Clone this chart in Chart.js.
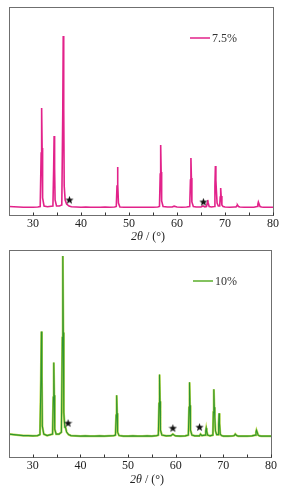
<!DOCTYPE html>
<html><head><meta charset="utf-8">
<script src="https://cdn.jsdelivr.net/npm/chart.js@4.4.0/dist/chart.umd.min.js"></script>
<style>
html,body{margin:0;padding:0;background:#fff;}
body{width:285px;height:492px;position:relative;overflow:hidden;}
.panel{position:absolute;left:0;width:285px;}
#p1{top:0;height:245px;}
#p2{top:245px;height:247px;}
</style></head><body>
<div class="panel" id="p1"><canvas id="c1"></canvas></div>
<div class="panel" id="p2"><canvas id="c2"></canvas></div>
<script>
// ---- data ----
const xTickValues = [30, 40, 50, 60, 70, 80];
const minorTickValues = [35, 45, 55, 65, 75];
const seriesLabels = ['7.5%', '10%'];

const twoTheta75 = [25, 26, 27, 28, 29, 30, 31, 31.5, 31.7, 31.8, 31.9, 32.0, 32.3, 33, 34.15, 34.3, 34.4, 34.5, 34.6, 34.9, 35.5, 36.0, 36.2, 36.3, 36.4, 36.5, 36.7, 37.0, 37.5, 38, 39, 40, 41, 42, 43, 44, 45, 46, 47, 47.35, 47.5, 47.6, 47.7, 47.8, 48.1, 49, 50, 51, 52, 53, 54, 55, 56, 56.35, 56.5, 56.6, 56.7, 56.8, 57.1, 58, 59, 59.4, 60, 61, 62, 62.65, 62.8, 62.9, 63.0, 63.1, 63.4, 64, 65, 65.4, 65.8, 66.15, 66.3, 66.4, 66.5, 66.7, 67.2, 67.8, 67.9, 68.0, 68.1, 68.2, 68.35, 68.6, 68.9, 69.0, 69.1, 69.2, 69.35, 69.6, 70, 71, 72, 72.3, 72.5, 72.6, 72.8, 73.1, 74, 75, 76, 76.7, 76.85, 76.95, 77.1, 77.3, 77.6, 78, 79, 80];
const intensity75 = [1.5, 1.2, 1, 0.8, 0.8, 0.7, 1, 1.5, 55, 100, 60, 10, 2, 1.2, 2, 38, 72, 40, 8, 2, 2, 3, 95, 172, 100, 22, 8, 4, 2, 1.2, 1, 0.8, 1, 0.8, 0.8, 0.7, 1, 0.8, 1, 1.5, 22, 41, 24, 5, 1, 0.8, 0.7, 0.8, 0.7, 0.8, 0.7, 0.8, 1, 1.5, 34, 63, 36, 7, 1.5, 1, 1, 1.8, 1, 0.8, 1, 1.5, 28, 50, 30, 6, 1.5, 1, 1, 2, 1.2, 1.5, 5, 8, 5, 1.5, 1, 1.5, 22, 42, 28, 18, 5, 2, 2, 11, 20, 12, 3, 1.5, 1, 0.8, 1, 1, 2.5, 3, 1.5, 1, 0.8, 0.8, 0.8, 1.5, 4, 6, 4, 1.5, 1, 0.8, 0.8, 0.8];

const twoTheta10 = [25, 26, 27, 28, 29, 30, 31, 31.5, 31.7, 31.8, 31.9, 32.0, 32.3, 33, 34.15, 34.3, 34.4, 34.5, 34.6, 34.9, 35.5, 36.0, 36.2, 36.3, 36.4, 36.5, 36.7, 36.85, 37.1, 37.5, 38, 39, 40, 41, 42, 43, 44, 45, 46, 47, 47.35, 47.5, 47.6, 47.7, 47.8, 48.1, 49, 50, 51, 52, 53, 54, 55, 56, 56.35, 56.5, 56.6, 56.7, 56.8, 57.1, 58, 59, 59.4, 59.8, 60, 61, 62, 62.65, 62.8, 62.9, 63.0, 63.1, 63.4, 64, 65, 65.2, 65.5, 66.15, 66.3, 66.4, 66.5, 66.7, 67.2, 67.8, 67.9, 68.0, 68.1, 68.2, 68.35, 68.6, 68.9, 69.0, 69.1, 69.2, 69.35, 69.6, 70, 71, 72, 72.3, 72.5, 72.6, 72.8, 73.1, 74, 75, 76, 76.7, 76.85, 76.95, 77.1, 77.3, 77.6, 78, 79, 80];
const intensity10 = [3, 2.5, 2, 1.5, 1.5, 1.2, 1.5, 2.5, 58, 106, 62, 11, 3, 1.5, 3, 40, 75, 42, 8, 3, 3, 5, 100, 182, 105, 25, 10, 10, 5, 2.5, 1.5, 1.2, 1, 1.2, 1, 1, 1.2, 1, 1.2, 1.5, 2, 22, 42, 24, 5, 1.5, 1, 1, 1.2, 1, 1, 1.2, 1, 1.5, 2, 34, 63, 36, 7, 2, 1.2, 1.5, 3, 1.5, 1.2, 1, 1.2, 2, 30, 55, 32, 7, 2, 1.2, 1.2, 3, 1.5, 2, 6, 9, 6, 2, 1.2, 2, 25, 48, 30, 20, 6, 2.5, 2.5, 13, 24, 14, 3, 1.5, 1, 1, 1.2, 1.5, 3, 3, 1.5, 1, 1, 1, 1.2, 2, 5, 7, 5, 2, 1.2, 1, 1, 1];

const starTheta75 = [37.6, 65.5];
const starIntensity75 = [8, 6];
const starTheta10 = [37.4, 59.4, 65.0];
const starIntensity10 = [14, 9, 10];

// ---- rendering ----
const starImg = document.createElement('canvas');
starImg.width = 9; starImg.height = 9;
(function(){
  const c = starImg.getContext('2d');
  c.fillStyle = '#111';
  c.beginPath();
  for (let i = 0; i < 10; i++) {
    const r = i % 2 === 0 ? 4.4 : 1.8;
    const a = -Math.PI / 2 + i * Math.PI / 5;
    const px = 4.5 + r * Math.cos(a), py = 4.8 + r * Math.sin(a);
    if (i === 0) c.moveTo(px, py); else c.lineTo(px, py);
  }
  c.closePath(); c.fill();
})();

const decor = {
  id: 'decor',
  afterDraw(chart, args, o) {
    const ctx = chart.ctx, a = chart.chartArea, xs = chart.scales.x;
    ctx.save();
    ctx.strokeStyle = '#6f6f6f';
    ctx.lineWidth = 1;
    ctx.strokeRect(Math.round(a.left) + 0.5, Math.round(a.top) + 0.5, Math.round(a.right - a.left), Math.round(a.bottom - a.top));
    // inward ticks
    ctx.strokeStyle = '#333';
    const b = Math.round(a.bottom) + 0.5;
    xTickValues.concat(minorTickValues).forEach(v => {
      const px = Math.round(xs.getPixelForValue(v)) + 0.5;
      ctx.beginPath(); ctx.moveTo(px, b); ctx.lineTo(px, b - 3); ctx.stroke();
    });
    // axis title 2θ / (°)
    const cx = (a.left + a.right) / 2 + 7, ty = a.bottom + o.titleDy;
    ctx.fillStyle = '#222';
    ctx.textBaseline = 'middle';
    const p1 = '2\u03b8';
    ctx.font = 'italic 12px "Liberation Serif"';
    const w1 = ctx.measureText(p1).width;
    ctx.font = '12px "Liberation Serif"';
    const p2 = ' / (\u00b0)';
    const w2 = ctx.measureText(p2).width;
    let sx = cx - (w1 + w2) / 2;
    ctx.font = 'italic 12px "Liberation Serif"';
    ctx.textAlign = 'left';
    ctx.fillText(p1, sx, ty);
    ctx.font = '12px "Liberation Serif"';
    ctx.fillText(p2, sx + w1, ty);
    // legend
    ctx.strokeStyle = o.legendColor;
    ctx.lineWidth = 1.5;
    ctx.beginPath(); ctx.moveTo(o.lx, o.ly); ctx.lineTo(o.lx + 20, o.ly); ctx.stroke();
    ctx.fillStyle = '#333';
    ctx.font = '12px "Liberation Serif"';
    ctx.fillText(o.label, o.lx + 22, o.ly + 1);
    ctx.restore();
  }
};

function pts(xa, ya) { return xa.map((x, i) => ({x: x, y: ya[i]})); }

function makeChart(id, datasets, yMin, yMax, pad, decorOpts) {
  return new Chart(document.getElementById(id), {
    type: 'scatter',
    data: { datasets: datasets },
    options: {
      responsive: true, maintainAspectRatio: false, animation: false, devicePixelRatio: 1,
      layout: { padding: pad },
      plugins: { legend: { display: false }, tooltip: { enabled: false }, decor: decorOpts },
      scales: {
        x: {
          type: 'linear', min: 25, max: 80,
          afterBuildTicks: s => { s.ticks = xTickValues.map(v => ({ value: v })); },
          afterFit: s => { s.height = 30; },
          grid: { display: false, drawTicks: false },
          border: { display: false },
          ticks: { font: { family: 'Liberation Serif', size: 12 }, color: '#222', padding: 2, maxRotation: 0, autoSkip: false }
        },
        y: { display: false, min: yMin, max: yMax }
      }
    },
    plugins: [decor]
  });
}

makeChart('c1', [
  { data: pts(starTheta75, starIntensity75), pointStyle: starImg, pointRadius: 4, showLine: false },
  { data: pts(twoTheta75, intensity75), showLine: true, borderColor: '#e2228a', borderWidth: 1.6, pointRadius: 0, tension: 0 }
], -7, 201, { top: 7, left: 9, right: 12, bottom: 0 },
{ titleDy: 22, legendColor: '#e2228a', lx: 190, ly: 38, label: seriesLabels[0] });

makeChart('c2', [
  { data: pts(starTheta10, starIntensity10), pointStyle: starImg, pointRadius: 4, showLine: false },
  { data: pts(twoTheta10, intensity10), showLine: true, borderColor: '#2f9530', borderWidth: 1.1, pointRadius: 0, tension: 0 },
  { data: pts(twoTheta10, intensity10), showLine: true, borderColor: '#bcd84a', borderWidth: 2.2, pointRadius: 0, tension: 0 }
], -20, 188, { top: 4, left: 9, right: 14, bottom: 5 },
{ titleDy: 23, legendColor: '#5aae2a', lx: 193, ly: 36, label: seriesLabels[1] });
</script>
</body></html>
